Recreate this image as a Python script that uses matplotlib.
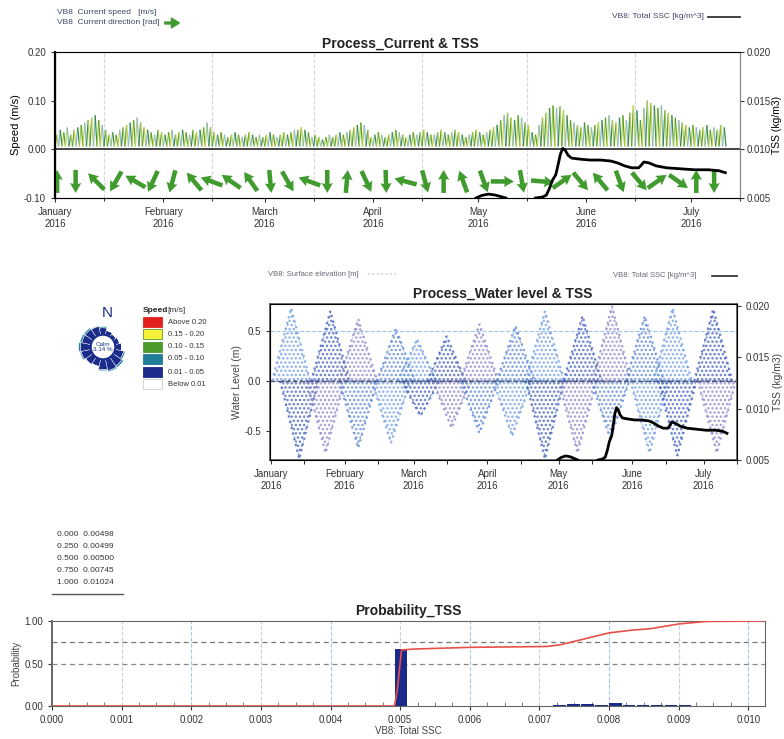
import numpy as np
import pandas as pd
import matplotlib
matplotlib.use('Agg')
import matplotlib.pyplot as plt
from matplotlib.collections import LineCollection
from matplotlib.patches import Rectangle, Polygon, FancyArrowPatch
from matplotlib.lines import Line2D

plt.rcParams['font.family'] = ['Liberation Sans Narrow', 'Liberation Sans', 'DejaVu Sans']
plt.rcParams['hatch.linewidth'] = 1.2

# ---------------- data ----------------
month_names = ['January', 'February', 'March', 'April', 'May', 'June', 'July']
start = pd.Timestamp('2016-01-01')
month_days = [(d - start).days for d in pd.date_range('2016-01-01', '2016-07-01', freq='MS')]
mid_days = [d + 14 for d in month_days]

# daily peak current speed (m/s), day 0 = 1 Jan 2016
speed_high = (
    [0.03, 0.04, 0.035, 0.045, 0.03, 0.04, 0.045, 0.05] +
    [0.055, 0.06, 0.065, 0.07, 0.06, 0.05] +
    [0.04, 0.03, 0.035, 0.03, 0.04] +
    [0.045, 0.05, 0.055, 0.06, 0.065, 0.055, 0.045] +
    [0.04, 0.035, 0.03, 0.04, 0.035, 0.03] +
    [0.035, 0.04, 0.03, 0.035, 0.04, 0.035, 0.03, 0.04, 0.035, 0.04, 0.045] +
    [0.055, 0.045, 0.035] +
    [0.03, 0.035, 0.03, 0.025, 0.03, 0.035, 0.03, 0.025, 0.03, 0.035, 0.03, 0.025,
     0.03, 0.025, 0.03, 0.035, 0.03, 0.025, 0.03, 0.035, 0.03, 0.035, 0.04] +
    [0.04, 0.045, 0.04, 0.035] +
    [0.025, 0.03, 0.025, 0.02, 0.025, 0.03, 0.025, 0.03, 0.035, 0.03, 0.035, 0.04] +
    [0.045, 0.05, 0.055, 0.05, 0.04] +
    [0.025, 0.03, 0.035, 0.03, 0.025, 0.03, 0.035, 0.04, 0.035, 0.03,
     0.025, 0.03, 0.035, 0.03, 0.035, 0.04, 0.035, 0.03, 0.03, 0.035,
     0.04, 0.035, 0.03, 0.035, 0.04, 0.035, 0.03, 0.025, 0.03, 0.035,
     0.04, 0.035, 0.03, 0.035, 0.04, 0.045] +
    [0.05, 0.06, 0.07, 0.075, 0.065, 0.06, 0.07, 0.065, 0.055, 0.05] +
    [0.035, 0.03, 0.05] +
    [0.065, 0.075, 0.085, 0.09, 0.085, 0.088, 0.08, 0.07, 0.06] +
    [0.055, 0.05, 0.045, 0.055, 0.05, 0.045, 0.05, 0.055] +
    [0.06, 0.065, 0.07, 0.06, 0.055, 0.065, 0.07, 0.06, 0.075] +
    [0.09, 0.08, 0.06] +
    [0.085, 0.1, 0.095, 0.09, 0.085, 0.09, 0.08] +
    [0.075, 0.07, 0.065, 0.06] +
    [0.055, 0.05, 0.045, 0.05, 0.045] +
    [0.04, 0.045, 0.05, 0.04, 0.045, 0.04, 0.05, 0.045]
)
speed_floor = 0.006

# current direction arrows (compass degrees, flowing towards)
arrow_days = [0.6, 5.9, 11.8, 17.4, 23.0, 28.0, 33.6, 39.8, 44.8, 50.4, 56.0, 61.6,
              66.6, 72.8, 77.9, 83.5, 89.1, 94.7, 100.3, 105.9, 111.2, 116.8, 122.7,
              128.0, 133.6, 139.5, 145.1, 150.4, 156.0, 161.6, 167.2, 172.3, 178.4,
              183.5, 188.6]
arrow_dir_deg = [0, 180, 315, 210, 300, 205, 195, 320, 290, 305, 325, 175, 150, 290,
                 180, 5, 155, 178, 285, 165, 0, 340, 160, 90, 170, 95, 55, 140, 320,
                 160, 140, 55, 125, 0, 180]

# total SSC (kg/m3)
tss_days = [120.5, 122, 124, 126, 128, 129, np.nan,
            137.5, 139.5, 140.6, 141.5, 142.3, 143.3, 144, 144.6, 145.3, 146, 146.8,
            147.8, 150, 153, 156, 159, 161, 163, 165, 167, 167.8, 168.5, 170, 172,
            175, 179, 183, 187, 190, 191.8]
tss_vals = [0.0050, 0.00525, 0.0054, 0.0053, 0.0051, 0.0050, np.nan,
            0.0050, 0.0051, 0.0053, 0.0060, 0.0068, 0.0074, 0.0085, 0.0095, 0.0101,
            0.0099, 0.0094, 0.0091, 0.0090, 0.0089, 0.0089, 0.0088, 0.0086, 0.0083,
            0.0081, 0.0081, 0.0084, 0.0087, 0.0086, 0.0083, 0.0081, 0.0080, 0.0079,
            0.0079, 0.0078, 0.0076]

# surface elevation spring-tide lobes (m)
lobe_peak_days = [8.4, 24.9, 36.6, 52.5, 61.4, 73.8, 87.6, 102.8, 115.2, 131.0, 143.4, 157.2, 168.9, 186.0]
lobe_peak_vals = [0.73, 0.70, 0.62, 0.53, 0.42, 0.45, 0.57, 0.55, 0.70, 0.65, 0.75, 0.65, 0.73, 0.72]
lobe_trough_days = [11.8, 22.9, 36.6, 50.4, 62.8, 75.9, 87.6, 101.4, 115.2, 128.9, 142.7, 159.2, 170.9, 187.5]
lobe_trough_vals = [-0.78, -0.72, -0.67, -0.62, -0.35, -0.47, -0.52, -0.55, -0.78, -0.72, -0.58, -0.72, -0.75, -0.72]

# quantiles of total SSC
quant_levels = [0.0, 0.25, 0.5, 0.75, 1.0]
quant_vals = [0.00498, 0.00499, 0.00500, 0.00745, 0.01024]

# probability histogram and cumulative curve
hist_left = [0.00492, 0.00512, 0.00532, 0.00720, 0.00740, 0.00760, 0.00780,
             0.00800, 0.00820, 0.00840, 0.00860, 0.00880, 0.00900]
hist_height = [0.67, 0.004, 0.002, 0.012, 0.022, 0.018, 0.016, 0.032, 0.012,
               0.006, 0.008, 0.014, 0.006]
cdf_x = [0.0, 0.00492, 0.00496, 0.00502, 0.0052, 0.0060, 0.0071, 0.0073, 0.0075,
         0.0078, 0.0080, 0.0083, 0.0086, 0.0090, 0.0092, 0.0094, 0.01024]
cdf_p = [0.0, 0.0, 0.20, 0.66, 0.67, 0.69, 0.70, 0.72, 0.76, 0.82, 0.86, 0.89,
         0.91, 0.965, 0.98, 0.995, 1.0]

# current rose (16 sectors from N, clockwise)
rose_dirs = np.arange(16) * 22.5
rose_slow = [0.22, 0.14, 0.10, 0.14, 0.20, 0.28, 0.34, 0.38, 0.34, 0.24, 0.28, 0.32, 0.34, 0.30, 0.30, 0.28]
rose_mid = [0.04, 0.0, 0.0, 0.0, 0.0, 0.05, 0.06, 0.04, 0.03, 0.0, 0.0, 0.04, 0.05, 0.06, 0.05, 0.02]
calm_pct = 3.14
speed_classes = ['Above 0.20', '0.15 - 0.20', '0.10 - 0.15', '0.05 - 0.10', '0.01 - 0.05', 'Below 0.01']
class_colors = ['#e3211c', '#f6f23a', '#4c9a2a', '#1f7d98', '#1b2c8a', '#ffffff']

# ---------------- figure ----------------
W, H = 784, 739
fig = plt.figure(figsize=(W / 100, H / 100), dpi=100)


def box(l, t, r, b):
    return [l / W, 1 - b / H, (r - l) / W, (b - t) / H]


month_labels = [m + '\n2016' for m in month_names]
green = '#3f9b2d'
tick_col = '#333333'

# ---- 1. current & TSS ----
ax1 = fig.add_axes(box(55, 52, 740, 198))
ax1.set_xlim(0, 192)
ax1.set_ylim(-0.10, 0.20)
segs, cols = [], []
zig_cols = ['#5aa02c', '#c6d64a', '#86b8d8', '#3d8f3a', '#a9cc55']
for i, h in enumerate(speed_high):
    segs.append([(i, speed_floor), (i + 0.5, h)])
    segs.append([(i + 0.5, h), (i + 1, speed_floor)])
    cols.append(zig_cols[(2 * i) % 5])
    cols.append(zig_cols[(2 * i + 1) % 5])
ax1.add_collection(LineCollection(segs, colors=cols, linewidths=0.9))
ax1.axhline(0, color='#444444', lw=1.4)
th = np.deg2rad(arrow_dir_deg)
L = 23
ax1.quiver(arrow_days, [-0.066] * len(arrow_days), L * np.sin(th), L * np.cos(th),
           units='dots', scale_units='dots', scale=1, angles='uv', width=4.5,
           headwidth=2.5, headlength=2.2, headaxislength=2.0, pivot='middle',
           color=green, zorder=4)
ax1.set_yticks([-0.1, 0.0, 0.1, 0.2])
ax1.set_yticklabels(['-0.10', '0.00', '0.10', '0.20'])
ax1.set_xticks(month_days)
ax1.set_xticklabels(month_labels)
ax1.set_xticks(mid_days, minor=True)
ax1.grid(True, which='minor', axis='x', color='#d6d6d6', ls='--', lw=0.8)
ax1.tick_params(labelsize=7, colors=tick_col, length=3)
ax1.set_ylabel('Speed (m/s)', fontsize=8, labelpad=2)
for s in ['top', 'right', 'bottom']:
    ax1.spines[s].set_color('#888888')
ax1.spines['left'].set_linewidth(1.6)

ax1r = ax1.twinx()
ax1r.set_ylim(0.005, 0.020)
ax1r.plot(tss_days, tss_vals, color='black', lw=2, zorder=5)
ax1r.set_yticks([0.005, 0.010, 0.015, 0.020])
ax1r.set_yticklabels(['0.005', '0.010', '0.015', '0.020'])
ax1r.tick_params(labelsize=7, colors=tick_col, length=3, pad=2)
ax1r.set_ylabel('TSS (kg/m3)', fontsize=7.5, labelpad=1)
ax1r.spines['right'].set_color('#888888')

fig.text(400 / W, 1 - 44 / H, 'Process_Current & TSS', fontsize=10, weight='bold',
         ha='center', va='center', color='#222222')
fig.text(57 / W, 1 - 12 / H, 'VB8  Current speed   [m/s]', fontsize=6, color='#3c4a66', va='center')
fig.text(57 / W, 1 - 23 / H, 'VB8  Current direction [rad]', fontsize=6, color='#3c4a66', va='center')
fig.add_artist(FancyArrowPatch((162 / W, 1 - 23 / H), (182 / W, 1 - 23 / H),
                               transform=fig.transFigure, color=green,
                               arrowstyle='simple,head_width=1.0,head_length=0.8',
                               mutation_scale=7))
fig.text(612 / W, 1 - 17 / H, 'VB8: Total SSC [kg/m^3]', fontsize=6, color='#3c4a66', va='center')
fig.add_artist(Line2D([708 / W, 740 / W], [1 - 17 / H] * 2, color='#222222', lw=1.2,
                      transform=fig.transFigure))

# ---- 2. water level & TSS ----
ax2 = fig.add_axes(box(270, 304, 737, 460))
ax2.set_xlim(-0.5, 193)
ax2.set_ylim(-0.79, 0.77)
lobe_cols = ['#6f9de6', '#3f5fbf', '#8c87cc', '#5a86d8']
hw = 8
for i in range(len(lobe_peak_days)):
    c = lobe_cols[i % 4]
    c2 = lobe_cols[(i + 1) % 4]
    pdy, pv = lobe_peak_days[i], lobe_peak_vals[i]
    tdy, tv = lobe_trough_days[i], lobe_trough_vals[i]
    ax2.add_patch(Polygon([(pdy - hw, 0), (pdy, pv), (pdy + hw, 0)], closed=True,
                          facecolor='none', edgecolor=c, hatch='....', lw=1.6, ls=':', alpha=0.8))
    ax2.add_patch(Polygon([(tdy - hw, 0), (tdy, tv), (tdy + hw, 0)], closed=True,
                          facecolor='none', edgecolor=c2, hatch='....', lw=1.6, ls=':', alpha=0.8))
ax2.axhline(0, color='#555566', lw=1.0, ls='--')
ax2.axhline(0.5, color='#9cc3e8', lw=0.8, ls='--')
ax2.set_yticks([-0.5, 0.0, 0.5])
ax2.set_yticklabels(['-0.5', '0.0', '0.5'])
ax2.set_xticks(month_days)
ax2.set_xticklabels(month_labels)
ax2.set_xticks(mid_days, minor=True)
ax2.tick_params(labelsize=7, colors=tick_col, length=3)
ax2.tick_params(which='minor', length=3)
ax2.set_ylabel('Water Level (m)', fontsize=7.5, labelpad=2, color='#444444')
for s in ax2.spines.values():
    s.set_color('#555555')
    s.set_linewidth(1.2)

ax2r = ax2.twinx()
ax2r.set_ylim(0.005, 0.0202)
ax2r.plot(tss_days, tss_vals, color='black', lw=2, zorder=5)
ax2r.set_yticks([0.005, 0.010, 0.015, 0.020])
ax2r.set_yticklabels(['0.005', '0.010', '0.015', '0.020'])
ax2r.tick_params(labelsize=7, colors=tick_col, length=3)
ax2r.set_ylabel('TSS (kg/m3)', fontsize=7.5, labelpad=2, color='#444444')

fig.text(503 / W, 1 - 294 / H, 'Process_Water level & TSS', fontsize=10, weight='bold',
         ha='center', va='center', color='#222222')
fig.text(268 / W, 1 - 274 / H, 'VB8: Surface elevation [m]', fontsize=5.5, color='#666677', va='center')
fig.add_artist(Line2D([368 / W, 396 / W], [1 - 274 / H] * 2, color='#c8d0e0', lw=1.2, ls=':',
                      transform=fig.transFigure))
fig.text(613 / W, 1 - 276 / H, 'VB8: Total SSC [kg/m^3]', fontsize=5.5, color='#666677', va='center')
fig.add_artist(Line2D([712 / W, 737 / W], [1 - 276 / H] * 2, color='#222222', lw=1.2,
                      transform=fig.transFigure))

# ---- current rose and speed legend ----
axr = fig.add_axes(box(73, 317, 133, 377), projection='polar')
axr.set_theta_zero_location('N')
axr.set_theta_direction(-1)
axr.set_ylim(0, 1)
axr.axis('off')
wid = np.deg2rad(22.5)
axr.bar(np.deg2rad(rose_dirs), rose_slow, width=wid, bottom=0.42, color=class_colors[4],
        edgecolor='white', linewidth=0.3)
axr.bar(np.deg2rad(rose_dirs), rose_mid, width=wid, bottom=0.42 + np.array(rose_slow),
        color=class_colors[3], edgecolor='white', linewidth=0.3)
fig.text(103 / W, 1 - 347 / H, 'Calm\n%.2f %%' % calm_pct, fontsize=4.5, color='#1b3a8c',
         ha='center', va='center', linespacing=1.0,
         bbox=dict(boxstyle='circle,pad=0.4', fc='white', ec='#1b2c8a', lw=1.5))
fig.text(107 / W, 1 - 313 / H, 'N', fontsize=11, color='#1b2c8a', ha='center', va='center')

fig.text(143 / W, 1 - 311 / H, 'Speed', fontsize=6, weight='bold', va='center', color='#222222')
fig.text(167 / W, 1 - 311 / H, '[m/s]', fontsize=6, va='center', color='#333333')
row_y = [322, 334, 347, 359, 372, 384]
for lab, col, yy in zip(speed_classes, class_colors, row_y):
    ec = '#5a9a2a' if col == '#f6f23a' else ('#cccccc' if col == '#ffffff' else col)
    fig.add_artist(Rectangle((143 / W, 1 - (yy + 5) / H), 19 / W, 10 / H, fc=col, ec=ec,
                             lw=0.6, transform=fig.transFigure))
    fig.text(168 / W, 1 - yy / H, lab, fontsize=5.5, va='center', color='#333333')

# ---- 3. probability ----
for i, (q, v) in enumerate(zip(quant_levels, quant_vals)):
    fig.text(57 / W, 1 - (535 + 12 * i) / H, '%.3f  %.5f' % (q, v), fontsize=6,
             va='center', color='#333333')
fig.add_artist(Line2D([52 / W, 123 / W], [1 - 594 / H] * 2, color='#555555', lw=1.0,
                      transform=fig.transFigure))

ax3 = fig.add_axes(box(52, 621, 765, 706))
ax3.set_xlim(0, 0.01024)
ax3.set_ylim(0, 1.0)
xt = np.round(np.arange(0, 0.0105, 0.001), 3)
for k, x in enumerate(xt[1:]):
    ax3.axvline(x, color='#a8c8ea' if k % 2 else '#cfcfcf', ls='--', lw=0.8, zorder=0)
ax3.axhline(0.75, color='#777777', ls=(0, (4, 3)), lw=0.9, zorder=1)
ax3.axhline(0.50, color='#888888', ls=(0, (4, 3)), lw=0.9, zorder=1)
ax3.bar(hist_left, hist_height, width=0.00018, align='edge', color='#1a2a8a', zorder=2)
ax3.plot(cdf_x, cdf_p, color='#e8504a', lw=1.2, zorder=3)
ax3.set_xticks(xt)
ax3.set_xticklabels(['%.3f' % x for x in xt])
ax3.set_yticks([0, 0.5, 1.0])
ax3.set_yticklabels(['0.00', '0.50', '1.00'])
ax3.xaxis.set_minor_locator(plt.MultipleLocator(0.00025))
ax3.tick_params(labelsize=7, colors=tick_col, length=3)
ax3.tick_params(axis='x', which='minor', direction='in', length=3, color='#666666')
ax3.set_ylabel('Probability', fontsize=7, labelpad=2, color='#444444')
ax3.set_xlabel('VB8: Total SSC', fontsize=7, labelpad=1, color='#444444')
for s in ax3.spines.values():
    s.set_color('#666666')
ax3.spines['left'].set_linewidth(1.4)
fig.text(408 / W, 1 - 611 / H, 'Probability_TSS', fontsize=10, weight='bold',
         ha='center', va='center', color='#222222')

fig.savefig('out.png', dpi=100)
